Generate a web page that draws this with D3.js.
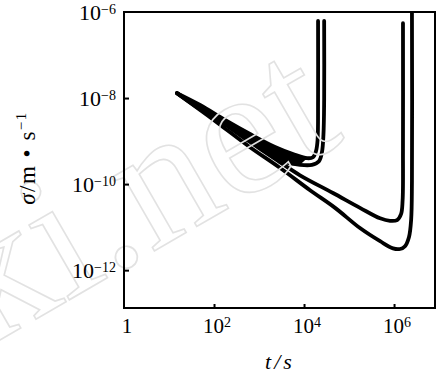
<!DOCTYPE html>
<html>
<head>
<meta charset="utf-8">
<script src="https://cdn.jsdelivr.net/npm/d3@7/dist/d3.min.js"></script>
<style>
  body { margin: 0; background: #fff; }
  text { font-family: "Liberation Serif", "Times New Roman", serif; fill: #000; }
</style>
</head>
<body>
<div id="chart"></div>
<script>
// ticks
const tTickExp = [0, 2, 4, 6];
const sigmaTickExp = [-6, -8, -10, -12];

// curves: [t (s), sigma (m/s)]
const curveA = [[15, 1.3e-8], [49, 6.9e-9], [175, 3.1e-9], [630, 1.46e-9], [2270, 7.3e-10],
  [6300, 4.8e-10], [11700, 4.0e-10], [15800, 4.2e-10], [18500, 5.9e-10], [20000, 1.05e-9],
  [20500, 9e-9], [20500, 6.2e-7]];
const curveB = [[15, 1.3e-8], [49, 5.9e-9], [175, 2.6e-9], [630, 1.17e-9], [1750, 5.3e-10],
  [3800, 3.25e-10], [8150, 2.8e-10], [15000, 2.8e-10], [21500, 3.4e-10], [25000, 5.5e-10],
  [27000, 1.4e-9], [28000, 9e-9], [28000, 6.2e-7]];
const curveC = [[15, 1.3e-8], [49, 5.5e-9], [175, 2.4e-9], [630, 9.5e-10], [2500, 3.6e-10],
  [8150, 1.6e-10], [44000, 6.2e-11], [175000, 2.8e-11], [490000, 1.6e-11], [815000, 1.4e-11],
  [1.17e6, 1.46e-11], [1.43e6, 2.0e-11], [1.55e6, 4.2e-11], [1.58e6, 6.2e-10], [1.58e6, 5.5e-7]];
const curveD = [[15, 1.3e-8], [49, 5.3e-9], [136, 2.4e-9], [630, 7.2e-10], [2900, 2.4e-10],
  [13600, 7.2e-11], [49000, 2.8e-11], [175000, 9.5e-12], [490000, 4.7e-12], [950000, 3.2e-12],
  [1.36e6, 3.1e-12], [1.75e6, 3.6e-12], [2.15e6, 5.9e-12], [2.4e6, 1.5e-11], [2.5e6, 1.2e-10],
  [2.5e6, 1e-6]];

const width = 443, height = 375;
const margin = {top: 12, right: 8, bottom: 67, left: 124};

const svg = d3.select('#chart').append('svg')
  .attr('width', width)
  .attr('height', height);

svg.append('rect').attr('width', width).attr('height', height).attr('fill', '#fff');

const x = d3.scaleLog()
  .domain([1, Math.pow(10, 6.91)])
  .range([margin.left, width - margin.right]);
const y = d3.scaleLog()
  .domain([Math.pow(10, -12.88), 1e-6])
  .range([height - margin.bottom, margin.top]);

svg.append('clipPath').attr('id', 'plot')
  .append('rect')
  .attr('x', margin.left).attr('y', margin.top)
  .attr('width', width - margin.left - margin.right)
  .attr('height', height - margin.top - margin.bottom);

const line = d3.line()
  .x(d => x(d[0]))
  .y(d => y(d[1]))
  .curve(d3.curveCatmullRom.alpha(0.5));

const g = svg.append('g').attr('clip-path', 'url(#plot)');

// ink filling between the two short curves before they turn up
const wedge = curveA.slice(0, 7).concat(curveB.slice(0, 7).reverse());
g.append('path')
  .attr('d', d3.line().x(d => x(d[0])).y(d => y(d[1])).curve(d3.curveLinearClosed)(wedge))
  .attr('fill', '#000');

[curveA, curveB, curveC, curveD].forEach(c => {
  g.append('path')
    .datum(c)
    .attr('d', line)
    .attr('fill', 'none')
    .attr('stroke', '#000')
    .attr('stroke-width', 3.8)
    .attr('stroke-linecap', 'round')
    .attr('stroke-linejoin', 'round');
});

// faint watermark
svg.append('text')
  .attr('transform', 'translate(-14,348) rotate(-30)')
  .attr('font-family', 'DejaVu Sans')
  .attr('font-size', 185)
  .attr('stroke', '#e2e2e2')
  .attr('stroke-width', 1.6)
  .style('fill', 'none')
  .text('ki.net');

// frame
svg.append('rect')
  .attr('x', margin.left).attr('y', margin.top)
  .attr('width', width - margin.left - margin.right)
  .attr('height', height - margin.top - margin.bottom)
  .attr('fill', 'none')
  .attr('stroke', '#000')
  .attr('stroke-width', 2);

// inward ticks
const xAxis = d3.axisBottom(x)
  .tickValues(tTickExp.filter(e => e > 0).map(e => Math.pow(10, e)))
  .tickSize(-4)
  .tickFormat('');
svg.append('g')
  .attr('transform', `translate(0,${height - margin.bottom})`)
  .call(xAxis)
  .call(s => s.select('.domain').remove())
  .call(s => s.selectAll('line').attr('stroke-width', 2));

const yAxis = d3.axisLeft(y)
  .tickValues(sigmaTickExp.filter(e => e < -6).map(e => Math.pow(10, e)))
  .tickSize(-5)
  .tickFormat('');
svg.append('g')
  .attr('transform', `translate(${margin.left},0)`)
  .call(yAxis)
  .call(s => s.select('.domain').remove())
  .call(s => s.selectAll('line').attr('stroke-width', 2));

// x tick labels
tTickExp.forEach(e => {
  const px = x(Math.pow(10, e));
  if (e === 0) {
    svg.append('text').attr('x', px + 3).attr('y', 333)
      .attr('text-anchor', 'middle').attr('font-size', 21).text('1');
    return;
  }
  const t = svg.append('text').attr('x', px - 11).attr('y', 333).attr('font-size', 21);
  t.append('tspan').text('10');
  t.append('tspan').attr('dy', -6).attr('font-size', 14).text(e);
});

// y tick labels
sigmaTickExp.forEach(e => {
  const py = y(Math.pow(10, e));
  const t = svg.append('text').attr('x', 116).attr('y', py + 8)
    .attr('text-anchor', 'end').attr('font-size', 22);
  t.append('tspan').text('10');
  t.append('tspan').attr('dy', -6).attr('font-size', 14).text('\u2212' + (-e));
});

// axis titles
svg.append('text')
  .attr('x', 280).attr('y', 369)
  .attr('text-anchor', 'middle')
  .attr('font-size', 22)
  .attr('font-style', 'italic')
  .attr('letter-spacing', 3)
  .text('t/s');

const yt = svg.append('text')
  .attr('transform', 'translate(35,158) rotate(-90)')
  .attr('text-anchor', 'middle')
  .attr('font-size', 23)
  .attr('letter-spacing', 1.5);
yt.append('tspan').attr('font-style', 'italic').text('\u03c3');
yt.append('tspan').text('/m \u2022 s');
yt.append('tspan').attr('dy', -9).attr('font-size', 15).text('\u22121');
</script>
</body>
</html>
